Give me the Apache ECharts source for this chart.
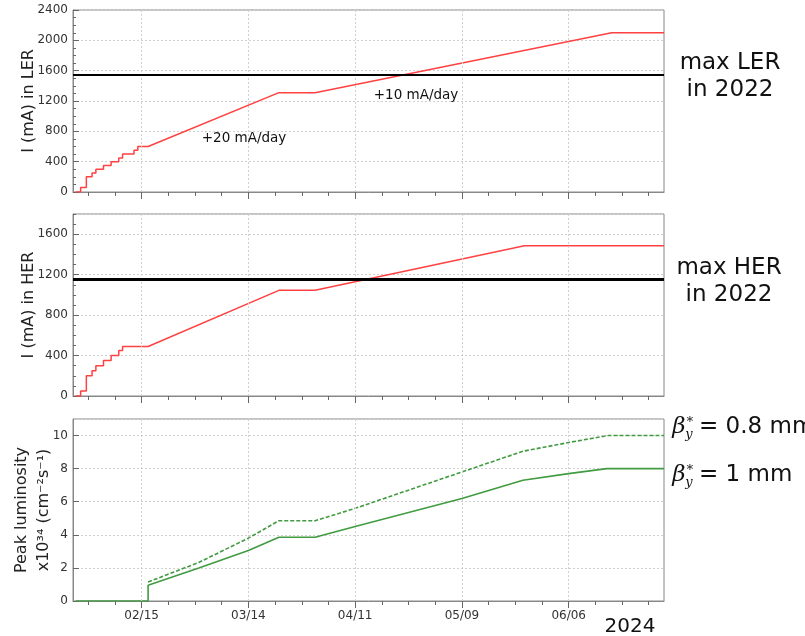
<!DOCTYPE html>
<html><head><meta charset="utf-8">
<script src="https://cdn.jsdelivr.net/npm/echarts@6/dist/echarts.min.js"></script>
<style>html,body{margin:0;padding:0;background:#fff}#c{width:805px;height:636px}</style>
</head><body><div id="c"></div>
<script>
// x values: days relative to 2024-02-15
const xRange = [-18, 137];
const xMajorTicks = [0, 28, 56, 84, 112];
const xMajorLabels = ['02/15', '03/14', '04/11', '05/09', '06/06'];
const xMinorTicks = [-14, -7, 0, 7, 14, 21, 28, 35, 42, 49, 56, 63, 70, 77, 84, 91, 98, 105, 112, 119, 126, 133];

const lerCurrent = [[-17.3,0],[-16,0],[-16,60],[-14.5,60],[-14.5,200],[-13,200],[-13,250],[-12,250],[-12,300],
  [-10,300],[-10,350],[-8,350],[-8,400],[-6,400],[-6,450],[-5,450],[-5,500],[-2,500],[-2,550],[-1,550],[-1,600],
  [1.7,600],[36,1310],[45.5,1310],[123.3,2100],[137,2100]];
const herCurrent = [[-17.3,0],[-16,0],[-16,50],[-14.5,50],[-14.5,200],[-13,200],[-13,250],[-12,250],[-12,300],
  [-10,300],[-10,350],[-8,350],[-8,400],[-6,400],[-6,450],[-5,450],[-5,490],[1.7,490],[36,1045],[45.5,1045],
  [100.4,1485],[137,1485]];
const lumiBeta1mm = [[-17.3,0],[1.7,0],[1.7,0.95],[15,2.0],[28,3.05],[36,3.85],[45.5,3.85],[56,4.5],[84,6.2],
  [100,7.3],[112,7.7],[122,8.0],[137,8.0]];
const lumiBeta08mm = [[1.7,1.15],[15,2.33],[28,3.8],[36,4.85],[45.5,4.85],[56,5.6],[84,7.8],[100,9.05],
  [112,9.58],[122.4,10.0],[137,10.0]];
const lerMax2022 = 1540;
const herMax2022 = 1150;

const yTop = {min: 0, max: 2400, interval: 400, minor: 100, name: 'I (mA) in LER'};
const yMid = {min: 0, max: 1800, interval: 400, minor: 100, name: 'I (mA) in HER'};
const yBot = {min: 0, max: 11, interval: 2, minor: null, name: 'Peak luminosity\nx10\u00b3\u2074 (cm\u207b\u00b2s\u207b\u00b9)'};

const FONT = 'DejaVu Sans';
const grids = [
  {left: 73, top: 10, width: 591, height: 182},
  {left: 73, top: 214, width: 591, height: 182},
  {left: 73, top: 419, width: 591, height: 182}
].map(g => Object.assign({show: true, borderColor: '#888', borderWidth: 1, backgroundColor: '#fff', containLabel: false, outerBoundsMode: 'none'}, g));

const xAxes = [];
const yAxes = [];
[0,1,2].forEach(i => {
  xAxes.push({
    type: 'value', gridIndex: i, position: 'bottom', min: xRange[0], max: xRange[1],
    axisLine: {show: true, onZero: false, lineStyle: {color: '#888'}},
    axisTick: {show: true, customValues: xMajorTicks, length: 7, lineStyle: {color: '#666'}},
    axisLabel: {show: i === 2, customValues: xMajorTicks, margin: 9, fontSize: 12, color: '#333', fontFamily: FONT,
      formatter: v => { const k = xMajorTicks.indexOf(v); return k >= 0 ? xMajorLabels[k] : ''; }},
    splitLine: {show: false}
  });
  xAxes.push({
    type: 'value', gridIndex: i, position: 'bottom', min: xRange[0], max: xRange[1],
    axisLine: {show: false, onZero: false},
    axisTick: {show: true, customValues: xMinorTicks, length: 4, lineStyle: {color: '#666'}},
    axisLabel: {show: false},
    splitLine: {show: false}
  });
});
[yTop, yMid, yBot].forEach((y, i) => {
  yAxes.push({
    type: 'value', gridIndex: i, position: 'left', min: y.min, max: y.max, interval: y.interval,
    name: y.name, nameLocation: 'middle', nameGap: i === 2 ? 18 : 33, nameRotate: 90, nameMoveOverlap: false,
    nameTextStyle: {fontSize: 16, color: '#222', fontFamily: FONT, lineHeight: 22},
    axisLine: {show: true, onZero: false, lineStyle: {color: '#888'}},
    axisTick: {show: true, inside: true, length: 6, lineStyle: {color: '#666'}},
    axisLabel: {fontSize: 12, color: '#333', fontFamily: FONT, margin: 5, showMaxLabel: i === 0, formatter: v => String(v)},
    splitLine: {show: true, lineStyle: {color: '#d0d0d0', type: [2, 2]}}
  });
});
[yTop, yMid].forEach((y, i) => {
  yAxes.push({
    type: 'value', gridIndex: i, position: 'left', min: y.min, max: y.max, interval: y.minor,
    axisLine: {show: false, onZero: false}, axisLabel: {show: false}, splitLine: {show: false},
    axisTick: {show: true, inside: true, length: 3, lineStyle: {color: '#666'}}
  });
});

const red = 'rgb(255,65,65)';
const green = 'rgb(65,155,65)';
function refLines(maxValue, w) {
  const data = xMajorTicks.map(v => ({xAxis: v, lineStyle: {color: '#d0d0d0', width: 1, type: [2, 2]}}));
  if (maxValue !== null) data.push({yAxis: maxValue, lineStyle: {color: '#000', width: w, type: 'solid'}});
  return {silent: true, symbol: 'none', label: {show: false}, animation: false, data: data};
}
const series = [
  {type: 'line', xAxisIndex: 0, yAxisIndex: 0, data: lerCurrent, symbol: 'none', lineStyle: {color: red, width: 1.5},
    markLine: refLines(lerMax2022, 2), z: 3},
  {type: 'line', xAxisIndex: 2, yAxisIndex: 1, data: herCurrent, symbol: 'none', lineStyle: {color: red, width: 1.5},
    markLine: refLines(herMax2022, 3), z: 3},
  {type: 'line', xAxisIndex: 4, yAxisIndex: 2, data: lumiBeta08mm, symbol: 'none', lineStyle: {color: green, width: 1.6, type: [4, 2]},
    markLine: refLines(null, 0)},
  {type: 'line', xAxisIndex: 4, yAxisIndex: 2, data: lumiBeta1mm, symbol: 'none', lineStyle: {color: green, width: 1.6}}
];

function txt(text, x, y, size, extra) {
  return {type: 'text', x: x, y: y, z: 10, style: Object.assign({text: text, fontSize: size, fontFamily: FONT, fill: '#111',
    align: 'center', verticalAlign: 'middle'}, extra || {})};
}
function beta(y, valueText) {
  return [
    txt('\u03b2', 679, y, 23, {fontFamily: 'DejaVu Serif', fontStyle: 'italic'}),
    txt('\u2217', 690, y - 7, 13, {fontFamily: 'DejaVu Serif'}),
    txt('y', 689, y + 8, 13, {fontFamily: 'DejaVu Serif', fontStyle: 'italic'}),
    txt(valueText, 699, y, 23, {align: 'left'})
  ];
}
const graphic = [
  txt('+20 mA/day', 244, 138, 13.5),
  txt('+10 mA/day', 416, 95, 13.5),
  txt('max LER', 730, 63, 23),
  txt('in 2022', 730, 90, 23),
  txt('max HER', 729, 268, 23),
  txt('in 2022', 729, 295, 23),
  txt('2024', 630, 627, 20)
].concat(beta(427, '= 0.8 mm'), beta(475, '= 1 mm'));

const chart = echarts.init(document.getElementById('c'), null, {renderer: 'canvas'});
chart.setOption({
  animation: false,
  backgroundColor: '#fff',
  textStyle: {fontFamily: FONT},
  grid: grids, xAxis: xAxes, yAxis: yAxes, series: series, graphic: graphic
});
</script></body></html>
